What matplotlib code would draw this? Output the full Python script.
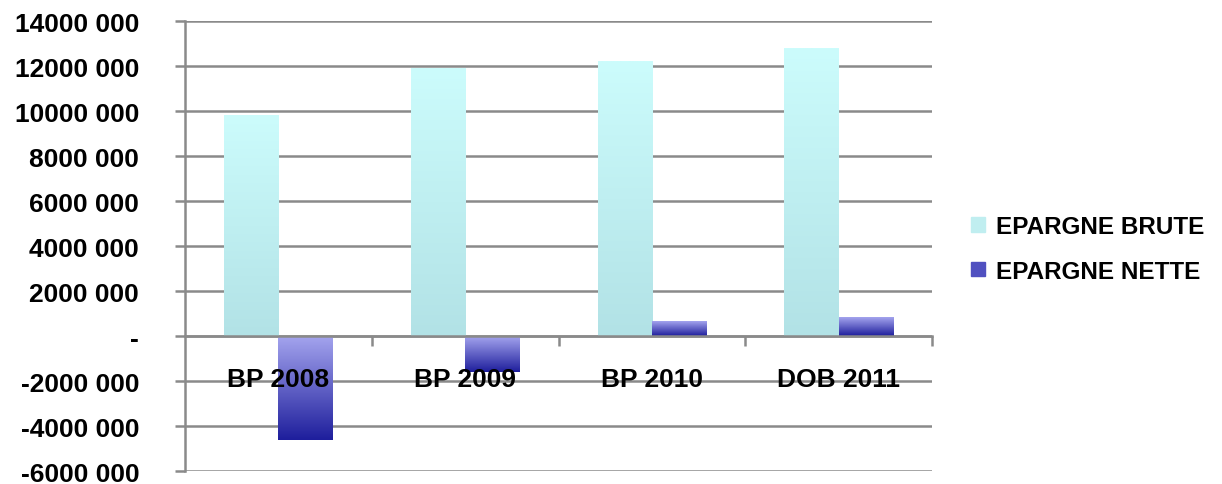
import matplotlib.pyplot as plt
import numpy as np
from matplotlib.colors import LinearSegmentedColormap

categories = ['BP 2008', 'BP 2009', 'BP 2010', 'DOB 2011']
epargne_brute = [9800000, 11900000, 12200000, 12800000]
epargne_nette = [-4600000, -1600000, 640000, 810000]
series_names = ['EPARGNE BRUTE', 'EPARGNE NETTE']
yticks = [-6000000, -4000000, -2000000, 0, 2000000, 4000000, 6000000,
          8000000, 10000000, 12000000, 14000000]
ytick_labels = ['-6000 000', '-4000 000', '-2000 000', '-', '2000 000', '4000 000',
                '6000 000', '8000 000', '10000 000', '12000 000', '14000 000']

plt.rcParams['font.family'] = ['Liberation Sans', 'DejaVu Sans']
plt.rcParams['font.weight'] = 'bold'

fig = plt.figure(figsize=(12.22, 4.85), dpi=100)
ax = fig.add_axes([0.1514, 0.0268, 0.6113, 0.9278])

x = np.arange(len(categories))
w = 0.29
# dégradés façon Excel
cmap_brute = LinearSegmentedColormap.from_list('b', ['#b2e2e6', '#ccfcfc'])
cmap_nette = LinearSegmentedColormap.from_list('n', ['#1e1e9c', '#a4a4ee'])

bars1 = ax.bar(x - w / 2, epargne_brute, w, color='#bff0f2', label=series_names[0], zorder=3)
bars2 = ax.bar(x + w / 2, epargne_nette, w, color='#6a6ad0', label=series_names[1], zorder=3)

grad = np.linspace(0, 1, 256).reshape(-1, 1)
for bars, cm in [(bars1, cmap_brute), (bars2, cmap_nette)]:
    for b in bars:
        x0, y0 = b.get_x(), b.get_y()
        x1, y1 = x0 + b.get_width(), y0 + b.get_height()
        lo, hi = min(y0, y1), max(y0, y1)
        ax.imshow(grad, extent=[x0, x1, lo, hi], origin='lower', cmap=cm,
                  aspect='auto', zorder=4)

ax.set_xlim(-0.5, len(categories) - 0.5)
ax.set_ylim(-6000000, 14000000)

gray = '#8a8a8a'
ax.set_yticks(yticks)
ax.set_yticklabels(ytick_labels, fontsize=19, fontweight='bold')
ax.tick_params(axis='y', length=7, width=1.8, color=gray, pad=26)
ax.yaxis.grid(True, color=gray, linewidth=1.8, zorder=1)
ax.set_axisbelow(True)

ax.spines['top'].set_visible(False)
ax.spines['right'].set_visible(False)
ax.spines['left'].set_color(gray)
ax.spines['left'].set_linewidth(1.8)
ax.spines['bottom'].set_position(('data', 0))
ax.spines['bottom'].set_color(gray)
ax.spines['bottom'].set_linewidth(1.8)
ax.spines['bottom'].set_zorder(5)

ax.set_xticks(np.arange(1, len(categories) + 1) - 0.5)
ax.set_xticklabels([])
ax.tick_params(axis='x', which='major', length=7, width=1.8, color=gray, direction='out')

# étiquettes de catégories au-dessus des barres
for xi, c in zip(x, categories):
    ax.annotate(c, (xi, 0), xytext=(0, -31), textcoords='offset points',
                ha='center', va='center', fontsize=19, fontweight='bold', zorder=10)

leg = fig.legend(handles=[bars1, bars2], labels=series_names, loc='center left',
                 bbox_to_anchor=(0.777, 0.485), frameon=False,
                 handlelength=0.55, handleheight=0.55, handletextpad=0.45,
                 labelspacing=0.9, prop={'weight': 'bold', 'size': 17.5})
leg.legend_handles[0].set_color('#c0eef0')
leg.legend_handles[1].set_color('#5050c0')

fig.savefig('out.png', dpi=100)
